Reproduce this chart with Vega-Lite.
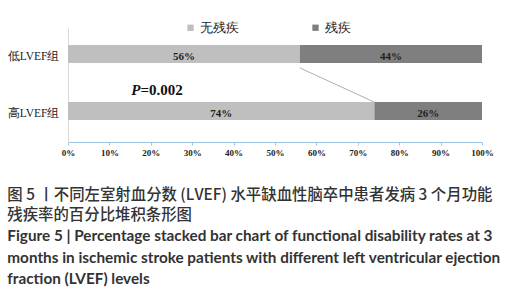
{
  "$schema": "https://vega.github.io/schema/vega-lite/v6.json",
  "width": 414,
  "height": 114,
  "autosize": {"type": "none"},
  "padding": {"left": 68, "top": 28, "right": 29, "bottom": 158},
  "background": "white",
  "datasets": {
    "bars": [
      {"group": "低LVEF组", "status": "无残疾", "pct": 56},
      {"group": "低LVEF组", "status": "残疾", "pct": 44},
      {"group": "高LVEF组", "status": "无残疾", "pct": 74},
      {"group": "高LVEF组", "status": "残疾", "pct": 26}
    ],
    "note": [{"sym": "P", "val": "=0.002"}]
  },
  "title": {
    "text": ["图 5 丨不同左室射血分数 (LVEF) 水平缺血性脑卒中患者发病 3 个月功能", "残疾率的百分比堆积条形图"],
    "subtitle": ["Figure 5  |  Percentage stacked bar chart of functional disability rates at 3", "months in ischemic stroke patients with different left ventricular ejection", "fraction (LVEF) levels"],
    "orient": "bottom",
    "anchor": "start",
    "frame": "bounds",
    "font": "Noto Sans CJK SC",
    "fontSize": 15.4,
    "fontWeight": 500,
    "color": "#333333",
    "lineHeight": 20,
    "subtitleFont": "Lato",
    "subtitleFontSize": 15.3,
    "subtitleFontWeight": "bold",
    "subtitleColor": "#333333",
    "subtitleLineHeight": 21.5,
    "subtitlePadding": 6,
    "offset": 31
  },
  "layer": [
    {
      "data": {"name": "bars"},
      "transform": [
        {"stack": "pct", "groupby": ["group"], "sort": [{"field": "status", "order": "ascending"}], "as": ["x0", "x1"]}
      ],
      "mark": {"type": "bar"},
      "encoding": {
        "y": {
          "field": "group", "type": "nominal", "sort": ["低LVEF组", "高LVEF组"],
          "scale": {"paddingInner": 0.6, "paddingOuter": 0.3},
          "axis": {"title": null, "ticks": false, "domainColor": "#d9d9d9", "labelPadding": 9, "labelFont": "Liberation Serif", "labelFontSize": 11.5, "labelColor": "#222222"}
        },
        "x": {
          "field": "x0", "type": "quantitative", "scale": {"domain": [0, 100]},
          "axis": {"title": null, "values": [0, 10, 20, 30, 40, 50, 60, 70, 80, 90, 100], "labelExpr": "datum.value + '%'", "labelFlush": false, "labelFont": "Liberation Serif", "labelFontWeight": "bold", "labelFontSize": 9, "labelColor": "#222222", "domainColor": "#9dc3e6", "tickColor": "#9dc3e6", "tickSize": 3, "labelPadding": 3, "grid": false}
        },
        "x2": {"field": "x1"},
        "color": {
          "field": "status", "type": "nominal",
          "scale": {"domain": ["无残疾", "残疾"], "range": ["#bfbfbf", "#7f7f7f"]},
          "legend": {"title": null, "orient": "none", "legendX": 116, "legendY": -7, "direction": "horizontal", "symbolType": "square", "symbolSize": 40, "symbolStrokeWidth": 0, "columnPadding": 70, "labelFont": "Liberation Serif", "labelFontSize": 13, "labelColor": "#222222", "labelOffset": 3, "padding": 0}
        }
      }
    },
    {
      "data": {"name": "bars"},
      "transform": [
        {"stack": "pct", "groupby": ["group"], "sort": [{"field": "status", "order": "ascending"}], "as": ["x0", "x1"]},
        {"calculate": "(datum.x0 + datum.x1) / 2", "as": "mid"},
        {"calculate": "datum.pct + '%'", "as": "label"}
      ],
      "mark": {"type": "text", "font": "Liberation Serif", "fontWeight": "bold", "fontSize": 11, "color": "#222222"},
      "encoding": {
        "y": {"field": "group", "type": "nominal", "sort": ["低LVEF组", "高LVEF组"]},
        "x": {"field": "mid", "type": "quantitative"},
        "text": {"field": "label"}
      }
    },
    {
      "data": {"name": "bars"},
      "transform": [
        {"stack": "pct", "groupby": ["group"], "sort": [{"field": "status", "order": "ascending"}], "as": ["x0", "x1"]},
        {"filter": "datum.status === '无残疾'"},
        {"calculate": "datum.group === '低LVEF组' ? 1 : 0", "as": "edge"}
      ],
      "mark": {"type": "line", "color": "#b0b0b0", "strokeWidth": 1},
      "encoding": {
        "y": {"field": "group", "type": "nominal", "sort": ["低LVEF组", "高LVEF组"]},
        "yOffset": {"field": "edge", "type": "quantitative", "scale": {"domain": [0, 1]}},
        "x": {"field": "x1", "type": "quantitative"}
      }
    },
    {
      "data": {"name": "note"},
      "mark": {"type": "text", "font": "Liberation Serif", "fontWeight": "bold", "fontStyle": "italic", "fontSize": 15, "align": "right", "color": "#111111"},
      "encoding": {
        "x": {"datum": 17.5, "type": "quantitative"},
        "y": {"datum": "低LVEF组", "type": "nominal", "bandPosition": 1.95},
        "text": {"field": "sym"}
      }
    },
    {
      "data": {"name": "note"},
      "mark": {"type": "text", "font": "Liberation Serif", "fontWeight": "bold", "fontSize": 15, "align": "left", "color": "#111111"},
      "encoding": {
        "x": {"datum": 17.5, "type": "quantitative"},
        "y": {"datum": "低LVEF组", "type": "nominal", "bandPosition": 1.95},
        "text": {"field": "val"}
      }
    }
  ],
  "config": {"view": {"stroke": null}}
}
